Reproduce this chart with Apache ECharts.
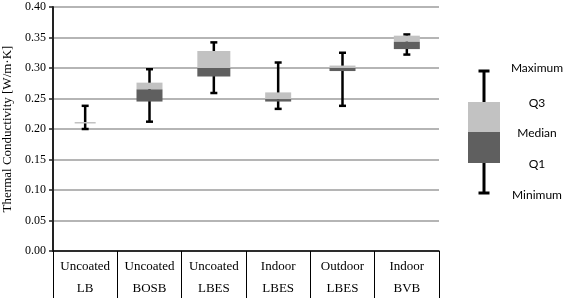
<!DOCTYPE html>
<html>
<head>
<meta charset="utf-8">
<script src="https://cdn.jsdelivr.net/npm/echarts@6/dist/echarts.min.js"></script>
<style>
  html, body { margin: 0; padding: 0; background: #fff; }
  #chart { width: 568px; height: 298px; }
</style>
</head>
<body>
<div id="chart"></div>
<script>
var categories = ['Uncoated\nLB', 'Uncoated\nBOSB', 'Uncoated\nLBES', 'Indoor\nLBES', 'Outdoor\nLBES', 'Indoor\nBVB'];
var minVals = [0.200, 0.212, 0.259, 0.233, 0.238, 0.322];//最小值
var q1Vals  = [0.209, 0.245, 0.286, 0.245, 0.295, 0.331];//Q1
var medVals = [0.209, 0.265, 0.300, 0.249, 0.300, 0.343];//中位数
var q3Vals  = [0.2115, 0.276, 0.328, 0.260, 0.304, 0.353];//Q3
var maxVals = [0.238, 0.298, 0.342, 0.309, 0.325, 0.355];//最大值

var boxWidth = [21, 26, 33, 26, 26, 26];
var darkGrey = '#5f5f5f';
var lightGrey = '#c2c2c2';
var serif = '"Liberation Serif", "DejaVu Serif", serif';

var boxData = [];
for (var i = 0; i < categories.length; i++) {
    boxData.push([i, minVals[i], q1Vals[i], medVals[i], q3Vals[i], maxVals[i]]);
}

function renderBox(params, api) {
    var idx = api.value(0);
    var pMin = api.coord([idx, api.value(1)]);
    var pQ1 = api.coord([idx, api.value(2)]);
    var pMed = api.coord([idx, api.value(3)]);
    var pQ3 = api.coord([idx, api.value(4)]);
    var pMax = api.coord([idx, api.value(5)]);
    var cx = pMed[0];
    var w = boxWidth[idx];
    var cap = 3.5;
    var lineStyle = {stroke: '#000', lineWidth: 2.5, fill: null};
    return {
        type: 'group',
        children: [
            {type: 'line', shape: {x1: cx, y1: pMax[1], x2: cx, y2: pMin[1]}, style: lineStyle},
            {type: 'line', shape: {x1: cx - cap, y1: pMax[1], x2: cx + cap, y2: pMax[1]}, style: lineStyle},
            {type: 'line', shape: {x1: cx - cap, y1: pMin[1], x2: cx + cap, y2: pMin[1]}, style: lineStyle},
            {type: 'rect', shape: {x: cx - w / 2, y: pQ3[1], width: w, height: pMed[1] - pQ3[1]}, style: {fill: lightGrey}},
            {type: 'rect', shape: {x: cx - w / 2, y: pMed[1], width: w, height: pQ1[1] - pMed[1]}, style: {fill: darkGrey}}
        ]
    };
}

// 图例示意
var lg = {x: 484, top: 71, q3: 102, med: 132, q1: 163, bottom: 193, w: 32, textX: 537};
var lgText = {fontFamily: 'Lato', fontSize: 12, fill: '#000', textAlign: 'center', textVerticalAlign: 'middle'};
function lgLabel(text, y) {
    return {type: 'text', x: lg.textX, y: y, style: Object.assign({text: text}, lgText)};
}

var myChart = echarts.init(document.getElementById('chart'));
var option = {
    animation: false,
    grid: {left: 53, right: 129, top: 7, bottom: 47, containLabel: false, outerBoundsMode: 'none'},
    xAxis: {
        type: 'category',
        data: categories,
        boundaryGap: true,
        axisLine: {lineStyle: {color: '#000', width: 1.5}},
        axisTick: {show: true, interval: 0, length: 47, lineStyle: {color: '#000', width: 1}},
        axisLabel: {
            interval: 0,
            margin: 5,
            formatter: function (v) {
                return v.split('\n').map(function (s) { return '{c|' + s + '}'; }).join('\n');
            },
            rich: {
                c: {
                    fontFamily: serif,
                    fontSize: 13,
                    color: '#000',
                    width: 60,
                    align: 'center',
                    lineHeight: 22
                }
            }
        }
    },
    yAxis: {
        type: 'value',
        min: 0,
        max: 0.4,
        interval: 0.05,
        name: 'Thermal Conductivity [W/m·K]',
        nameLocation: 'middle',
        nameGap: 38,
        nameTextStyle: {fontFamily: serif, fontSize: 13, color: '#000'},
        axisLine: {show: true, lineStyle: {color: '#222', width: 2}},
        axisTick: {show: true, length: 4, lineStyle: {color: '#222', width: 1.5}},
        axisLabel: {
            fontFamily: serif,
            fontSize: 12,
            color: '#000',
            margin: 7,
            formatter: function (v) { return v.toFixed(2); }
        },
        splitLine: {lineStyle: {color: '#9c9c9c', width: 1.5}}
    },
    series: [{
        type: 'custom',
        renderItem: renderBox,
        encode: {x: 0, y: [1, 2, 3, 4, 5]},
        data: boxData,
        z: 5
    }],
    graphic: [
        {type: 'line', shape: {x1: lg.x, y1: lg.top, x2: lg.x, y2: lg.bottom}, style: {stroke: '#000', lineWidth: 3}},
        {type: 'line', shape: {x1: lg.x - 5.5, y1: lg.top, x2: lg.x + 5.5, y2: lg.top}, style: {stroke: '#000', lineWidth: 3}},
        {type: 'line', shape: {x1: lg.x - 5.5, y1: lg.bottom, x2: lg.x + 5.5, y2: lg.bottom}, style: {stroke: '#000', lineWidth: 3}},
        {type: 'rect', shape: {x: lg.x - lg.w / 2, y: lg.q3, width: lg.w, height: lg.med - lg.q3}, style: {fill: lightGrey}},
        {type: 'rect', shape: {x: lg.x - lg.w / 2, y: lg.med, width: lg.w, height: lg.q1 - lg.med}, style: {fill: darkGrey}},
        lgLabel('Maximum', 68),
        lgLabel('Q3', 103),
        lgLabel('Median', 133),
        lgLabel('Q1', 164),
        lgLabel('Minimum', 195)
    ]
};
myChart.setOption(option);
</script>
</body>
</html>
